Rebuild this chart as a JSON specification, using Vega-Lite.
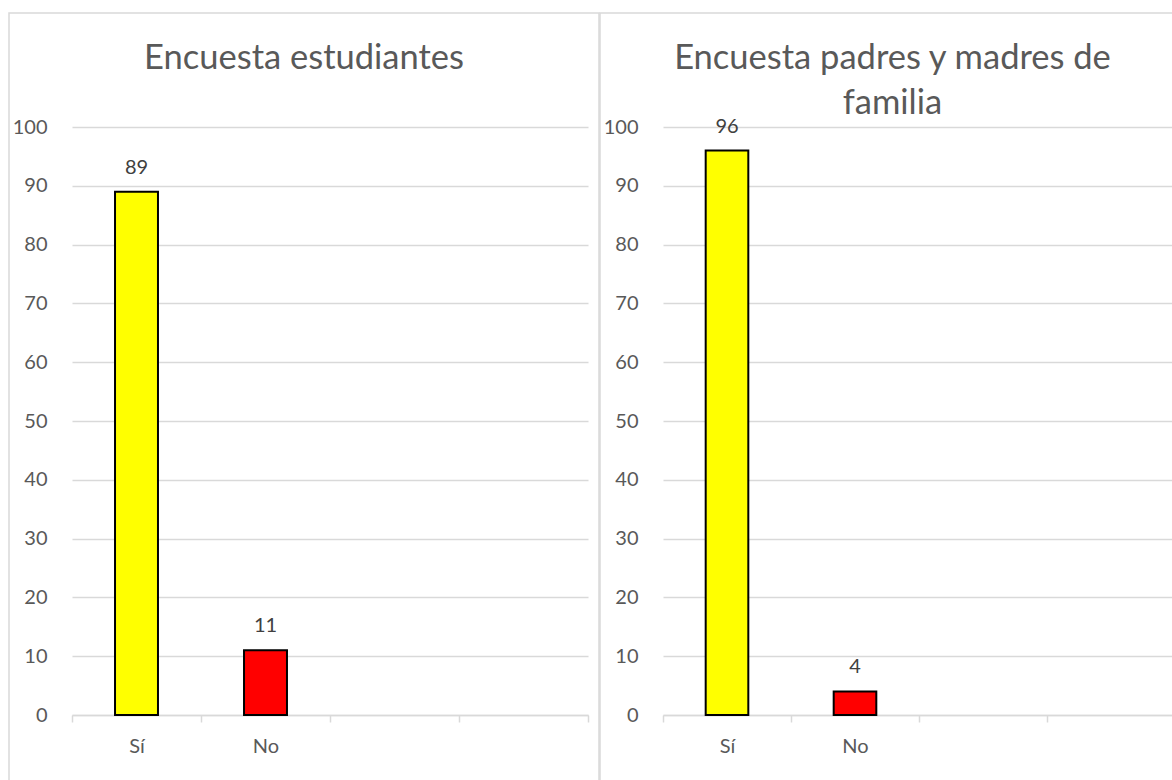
{
  "$schema": "https://vega.github.io/schema/vega-lite/v6.json",
  "padding": {"left": 8, "top": 12, "right": 0, "bottom": 0},
  "background": "white",
  "spacing": -2,
  "config": {
    "view": {"stroke": "#d9d9d9", "strokeWidth": 1.5},
    "font": "Lato",
    "title": {"font": "Lato", "fontSize": 34.5, "fontWeight": "normal", "color": "#595959", "anchor": "middle", "baseline": "top", "lineHeight": 45},
    "axis": {"labelFont": "Lato", "labelFontSize": 20, "labelColor": "#595959", "title": null}
  },
  "datasets": {
    "d": [
      {"encuesta": "estudiantes", "respuesta": "Sí", "valor": 89},
      {"encuesta": "estudiantes", "respuesta": "No", "valor": 11},
      {"encuesta": "padres", "respuesta": "Sí", "valor": 96},
      {"encuesta": "padres", "respuesta": "No", "valor": 4}
    ]
  },
  "hconcat": [
    {
      "width": 590,
      "height": 768,
      "title": {"text": "Encuesta estudiantes", "offset": -63},
      "data": {"name": "d"},
      "transform": [{"filter": "datum.encuesta === 'estudiantes'"}],
      "encoding": {
        "x": {
          "field": "respuesta", "type": "nominal", "sort": null,
          "scale": {"domain": ["Sí", "No", "c3", "c4"], "range": [63, 579], "paddingInner": 0, "paddingOuter": 0},
          "axis": {"orient": "bottom", "offset": -66, "domainColor": "#d9d9d9", "domainWidth": 1.5, "tickColor": "#d9d9d9", "tickWidth": 1.5, "tickSize": 7, "tickBand": "extent", "labelPadding": 14, "grid": false, "labelAngle": 0, "labelExpr": "datum.value === 'Sí' || datum.value === 'No' ? datum.value : ''"}
        },
        "y": {
          "field": "valor", "type": "quantitative",
          "scale": {"domain": [0, 100], "range": [702, 114], "nice": false, "zero": true},
          "axis": {"orient": "left", "offset": -54, "domain": false, "ticks": false, "tickSize": 0, "labelPadding": 16, "values": [0, 10, 20, 30, 40, 50, 60, 70, 80, 90, 100], "grid": true, "gridColor": "#d9d9d9", "gridWidth": 1.5}
        }
      },
      "layer": [
        {
          "mark": {"type": "bar", "width": {"band": 0.333}, "stroke": "black", "strokeWidth": 2},
          "encoding": {"color": {"field": "respuesta", "type": "nominal", "scale": {"domain": ["Sí", "No"], "range": ["#FFFF00", "#FF0000"]}, "legend": null}}
        },
        {
          "mark": {"type": "text", "dy": -18, "baseline": "alphabetic", "fontSize": 20, "font": "Lato", "color": "#404040"},
          "encoding": {"text": {"field": "valor", "type": "quantitative"}}
        }
      ]
    },
    {
      "width": 575,
      "height": 768,
      "title": {"text": ["Encuesta padres y madres de", "familia"], "offset": -108, "dx": 5},
      "data": {"name": "d"},
      "transform": [{"filter": "datum.encuesta === 'padres'"}],
      "encoding": {
        "x": {
          "field": "respuesta", "type": "nominal", "sort": null,
          "scale": {"domain": ["Sí", "No", "c3", "c4"], "range": [63, 575], "paddingInner": 0, "paddingOuter": 0},
          "axis": {"orient": "bottom", "offset": -66, "domainColor": "#d9d9d9", "domainWidth": 1.5, "tickColor": "#d9d9d9", "tickWidth": 1.5, "tickSize": 7, "tickBand": "extent", "labelPadding": 14, "grid": false, "labelAngle": 0, "labelExpr": "datum.value === 'Sí' || datum.value === 'No' ? datum.value : ''"}
        },
        "y": {
          "field": "valor", "type": "quantitative",
          "scale": {"domain": [0, 100], "range": [702, 114], "nice": false, "zero": true},
          "axis": {"orient": "left", "offset": -54, "domain": false, "ticks": false, "tickSize": 0, "labelPadding": 16, "values": [0, 10, 20, 30, 40, 50, 60, 70, 80, 90, 100], "grid": true, "gridColor": "#d9d9d9", "gridWidth": 1.5}
        }
      },
      "layer": [
        {
          "mark": {"type": "bar", "width": {"band": 0.333}, "stroke": "black", "strokeWidth": 2},
          "encoding": {"color": {"field": "respuesta", "type": "nominal", "scale": {"domain": ["Sí", "No"], "range": ["#FFFF00", "#FF0000"]}, "legend": null}}
        },
        {
          "mark": {"type": "text", "dy": -18, "baseline": "alphabetic", "fontSize": 20, "font": "Lato", "color": "#404040"},
          "encoding": {"text": {"field": "valor", "type": "quantitative"}}
        }
      ]
    }
  ]
}
